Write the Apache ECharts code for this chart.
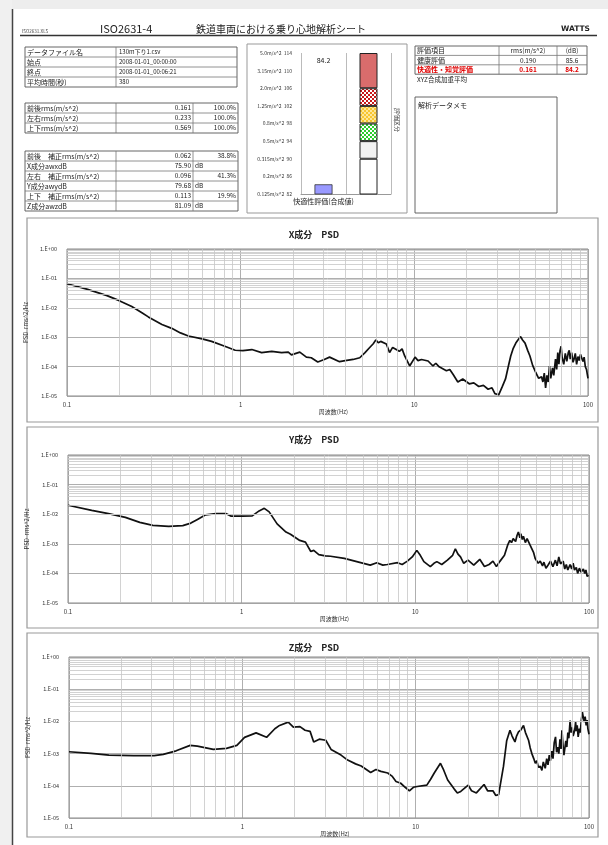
<!DOCTYPE html>
<html>
<head>
<meta charset="utf-8">
<script src="https://cdn.jsdelivr.net/npm/echarts@6/dist/echarts.min.js"></script>
<style>
html, body { margin: 0; padding: 0; background: #fff; }
#sheet { width: 608px; height: 845px; }
</style>
</head>
<body>
<div id="sheet"></div>
<script>
// ---- data ----
const fileInfo = [
  ['データファイル名', '130m下り1.csv'],
  ['始点', '2008-01-01_00:00:00'],
  ['終点', '2008-01-01_00:06:21'],
  ['平均時間(秒)', '380'],
]
const rmsRows = [
  ['前後rms(m/s^2)', '0.161', '100.0%'],
  ['左右rms(m/s^2)', '0.233', '100.0%'],
  ['上下rms(m/s^2)', '0.569', '100.0%'],
]
const weightedRows = [
  ['前後　補正rms(m/s^2)', '0.062', '38.8%'],
  ['X成分awxdB', '75.90', 'dB'],
  ['左右　補正rms(m/s^2)', '0.096', '41.3%'],
  ['Y成分awydB', '79.68', 'dB'],
  ['上下　補正rms(m/s^2)', '0.113', '19.9%'],
  ['Z成分awzdB', '81.09', 'dB'],
]
const evalRows = [
  ['評価項目', 'rms(m/s^2)', '(dB)'],
  ['健康評価', '0.190', '85.6'],
  ['快適性・知覚評価', '0.161', '84.2'],
]

const comfortCategories = ['快適性評価(合成値)', '']
const comfortValue = 84.2
const comfortDbTicks = [82, 86, 90, 94, 98, 102, 106, 110, 114]
const comfortRmsTicks = ['0.125m/s^2', '0.2m/s^2', '0.315m/s^2', '0.5m/s^2', '0.8m/s^2', '1.25m/s^2', '2.0m/s^2', '3.15m/s^2', '5.0m/s^2']
const bandSizes = [90, 4, 4, 4, 4, 8]   // stacked dB bands 82-90-94-98-102-106-114

// [frequency Hz, PSD]
const pointsX = [
  [0.1, 0.066], [0.13, 0.043], [0.17, 0.026], [0.2, 0.0175], [0.236, 0.011], [0.27, 0.0068], [0.294, 0.0049],
  [0.352, 0.0027], [0.401, 0.002], [0.45, 0.0014], [0.5, 0.0011], [0.6, 0.00088], [0.68, 0.00072], [0.81, 0.00049],
  [0.93, 0.00036], [1.03, 0.00035], [1.16, 0.00038], [1.32, 0.0003], [1.51, 0.00033], [1.72, 0.0003], [1.88, 0.00031],
  [1.96, 0.00025], [2.19, 0.00031], [2.39, 0.00021], [2.55, 0.0002], [2.78, 0.000144], [3.03, 0.000175], [3.25, 0.00021],
  [3.71, 0.000147], [4.0, 0.00016], [4.44, 0.000175], [4.85, 0.0002], [5.2, 0.0003], [5.5, 0.00043], [5.8, 0.0006],
  [6.0, 0.00081], [6.2, 0.00065], [6.4, 0.00072], [6.9, 0.00059], [7.2, 0.0003], [7.5, 0.00045], [7.7, 0.0004], [8.2, 0.00033],
  [8.5, 0.0004], [8.8, 0.00023], [9.4, 0.000105], [10.1, 0.00021], [10.5, 0.00016], [11, 0.000175], [12, 0.000155],
  [12.8, 0.000105], [13.3, 0.00013], [13.9, 0.000098], [15.3, 0.000072], [16, 0.00008], [16.7, 0.000055], [17.8, 0.00003],
  [19, 0.000038], [20.7, 0.000026], [22, 0.000028], [23.5, 0.000021], [25, 0.000023], [26.6, 0.000017], [28, 0.000019],
  [29.1, 0.000012], [30.6, 0.000011], [32, 0.00002], [33.5, 0.000038], [35, 0.00012], [35.9, 0.00023], [37, 0.0004],
  [38.4, 0.00063], [39.5, 0.0008], [40.9, 0.00105], [42, 0.0008], [43.4, 0.00063], [45, 0.00035], [46.3, 0.00023],
  [48, 0.00011], [50, 0.000063], [52, 0.00004], [54, 0.000045], [55, 0.00003], [56, 0.00006], [57, 0.000019],
  [58, 0.00005], [59, 0.00003], [60, 0.000105], [61, 0.00004], [62.5, 0.00009], [63.5, 0.00005], [65, 0.00018],
  [66, 0.00008], [67, 0.0003], [68, 0.00012], [69, 0.00035], [70, 0.00049], [71, 0.0002], [72.5, 0.00012],
  [74, 0.00028], [75.5, 0.00015], [77, 0.0003], [78, 0.00036], [79, 0.00018], [80.5, 0.0003], [82, 0.00014],
  [83, 0.000175], [84.5, 0.00028], [86, 0.00012], [87.5, 0.00022], [89, 0.00016], [90.5, 0.00026], [92, 0.0003],
  [93.5, 0.00015], [95, 0.00021], [96.5, 0.0001], [98, 0.00008], [100, 0.00004],
]
const pointsY = [
  [0.1, 0.02], [0.137, 0.0135], [0.171, 0.0105], [0.214, 0.0078], [0.259, 0.0053], [0.308, 0.0042], [0.38, 0.0039],
  [0.458, 0.0041], [0.51, 0.005], [0.56, 0.0068], [0.62, 0.0095], [0.71, 0.0105], [0.81, 0.0105], [0.87, 0.0086],
  [1.01, 0.0086], [1.15, 0.0088], [1.26, 0.0129], [1.35, 0.0158], [1.44, 0.012], [1.6, 0.0047], [1.8, 0.0025],
  [1.91, 0.0021], [2.16, 0.0013], [2.33, 0.00114], [2.5, 0.00055], [2.6, 0.0006], [2.78, 0.00043], [3.03, 0.00039],
  [3.25, 0.00038], [3.9, 0.00032], [4.6, 0.00025], [5.5, 0.00019], [6.0, 0.00023], [6.5, 0.00019], [6.9, 0.0002],
  [7.9, 0.00023], [8.4, 0.0002], [9.0, 0.00026], [9.6, 0.00036], [10.2, 0.0006], [10.7, 0.0004], [11.2, 0.00025],
  [12.2, 0.00017], [12.8, 0.00022], [13.3, 0.00025], [14.2, 0.0002], [15.3, 0.00028], [16.4, 0.00041], [17.0, 0.00068],
  [17.6, 0.00045], [18.2, 0.00036], [19, 0.00022], [20.1, 0.00028], [21.7, 0.00019], [23.5, 0.0003], [25, 0.00017],
  [26.6, 0.0002], [28, 0.00026], [29.3, 0.00017], [30.6, 0.00025], [32.6, 0.00041], [34, 0.0009], [35, 0.0013],
  [35.8, 0.0011], [36.6, 0.0015], [37.8, 0.0012], [38.5, 0.0019], [39.2, 0.0025], [40, 0.0016], [40.5, 0.0022],
  [41.3, 0.0014], [41.9, 0.0018], [43, 0.0011], [44, 0.0015], [44.8, 0.0013], [45.8, 0.0009], [46.8, 0.00088],
  [48, 0.0005], [49, 0.00032], [50, 0.00035], [51, 0.00022], [52.4, 0.00026], [54, 0.00018], [55, 0.00024],
  [56.5, 0.00015], [58.4, 0.0002], [60, 0.00026], [62, 0.00017], [64, 0.00028], [65.5, 0.00018], [67, 0.00036],
  [68.5, 0.00021], [69.8, 0.00019], [71, 0.00026], [72.5, 0.00014], [74, 0.0002], [75.5, 0.00013], [77.8, 0.0002],
  [79.5, 0.00014], [81, 0.00022], [82.5, 0.00013], [84.5, 0.00016], [86, 0.0001], [88, 0.00015], [90, 0.00011],
  [92.8, 0.00014], [94.5, 0.0001], [96, 0.00013], [97.5, 0.00008], [99.5, 0.000087],
]
const pointsZ = [
  [0.1, 0.00114], [0.134, 0.00102], [0.17, 0.0009], [0.236, 0.00086], [0.31, 0.00086], [0.35, 0.00095], [0.415, 0.00122],
  [0.5, 0.0018], [0.55, 0.0017], [0.68, 0.00135], [0.81, 0.00145], [0.93, 0.0018], [1.03, 0.0032], [1.2, 0.0044],
  [1.38, 0.0032], [1.54, 0.0059], [1.64, 0.0075], [1.84, 0.0095], [1.97, 0.0066], [2.15, 0.0069], [2.3, 0.0053],
  [2.46, 0.0049], [2.58, 0.0023], [2.78, 0.0028], [3.03, 0.0026], [3.25, 0.00135], [3.71, 0.0009], [4.05, 0.00063],
  [4.5, 0.00048], [4.85, 0.00041], [5.5, 0.00026], [5.9, 0.00032], [6.3, 0.00028], [6.9, 0.00025], [7.3, 0.0002],
  [7.7, 0.000136], [8.2, 0.00012], [8.7, 0.00009], [9.2, 0.00007], [9.7, 0.00009], [10.2, 0.000095], [11.6, 0.000105],
  [12.2, 0.00016], [12.8, 0.00025], [13.9, 0.0005], [14.5, 0.00031], [15.3, 0.000152], [16.7, 0.000079], [17.4, 0.00006],
  [18.2, 0.000067], [20.1, 0.000105], [21, 0.00007], [22.4, 0.00006], [24.8, 0.00011], [26, 0.00007], [27.9, 0.00007],
  [29, 0.00005], [30.1, 0.000053], [32.1, 0.0004], [33.5, 0.0025], [35, 0.0053], [36, 0.0035], [37.4, 0.0023],
  [38.2, 0.0035], [39.2, 0.0047], [40.5, 0.0055], [41.9, 0.0075], [43, 0.0045], [44.8, 0.0026], [45.8, 0.0015],
  [46.8, 0.001], [48, 0.0007], [49, 0.0005], [50, 0.0006], [51, 0.00038], [52.4, 0.0004], [53.5, 0.0003],
  [54.5, 0.00055], [55.9, 0.00035], [57, 0.0007], [58, 0.00045], [59, 0.0009], [59.9, 0.0006], [61, 0.0012],
  [62, 0.0007], [63, 0.0022], [64.1, 0.0033], [65, 0.0011], [66, 0.0016], [67, 0.001], [68, 0.0028], [69, 0.0014],
  [69.8, 0.0053], [70.8, 0.0018], [71.7, 0.0009], [72.5, 0.00079], [73.5, 0.0025], [74.5, 0.0016], [75.5, 0.0045],
  [76.5, 0.003], [77.8, 0.0107], [78.8, 0.0045], [80, 0.0065], [81, 0.0035], [82.7, 0.0053], [83.7, 0.0095],
  [84.5, 0.005], [85.5, 0.0075], [86.6, 0.0033], [88, 0.006], [89, 0.0045], [90.5, 0.012], [91.6, 0.0195],
  [93, 0.012], [94, 0.0095], [95, 0.014], [96.3, 0.0075], [97.5, 0.011], [98.5, 0.006], [100, 0.004],
]

const psdTitles = ['X成分　PSD', 'Y成分　PSD', 'Z成分　PSD']
const decadeSteps = [2, 3, 4, 5, 6, 7, 8, 9]

// ---- layout ----
const FONT = '"Noto Sans CJK JP", "Noto Sans", sans-serif'
const psdGrids = [
  { left: 67, top: 249, width: 521, height: 147, box: [27, 218, 571, 204], titleY: 235 },
  { left: 68, top: 455, width: 521, height: 148, box: [27, 427, 571, 201], titleY: 440 },
  { left: 69, top: 657, width: 520, height: 161, box: [27, 633, 571, 204], titleY: 648 },
]

const g = []
function txt(x, y, s, size, o) {
  g.push({ type: 'text', x, y, silent: true,
    style: Object.assign({ text: s, fontSize: size, fill: '#222', fontFamily: FONT, verticalAlign: 'middle', align: 'left' }, o || {}) })
}
function box(x, y, w, h, stroke, lw) {
  g.push({ type: 'rect', silent: true, shape: { x, y, width: w, height: h },
    style: { fill: 'none', stroke: stroke || '#555', lineWidth: lw || 1 } })
}
function hline(x1, x2, y, stroke, lw) {
  g.push({ type: 'line', silent: true, shape: { x1, y1: y, x2, y2: y }, style: { stroke: stroke || '#777', lineWidth: lw || 0.8 } })
}
function vline(x, y1, y2, stroke, lw) {
  g.push({ type: 'line', silent: true, shape: { x1: x, y1, x2: x, y2 }, style: { stroke: stroke || '#777', lineWidth: lw || 0.8 } })
}

// page frame
g.push({ type: 'rect', silent: true, shape: { x: 0, y: 0, width: 608, height: 9 }, style: { fill: '#ededed' } })
g.push({ type: 'rect', silent: true, shape: { x: 0, y: 0, width: 12, height: 845 }, style: { fill: '#f0f0f0' } })
vline(12.5, 9, 845, '#444', 1.5)

// header
txt(22, 31, 'ISO2631.XLS', 4.5, { fill: '#444' })
txt(100, 29, 'ISO2631-4', 11)
txt(196, 29, '鉄道車両における乗り心地解析シート', 10)
txt(590, 29, 'WATTS', 7.5, { align: 'right', fontWeight: 'bold', fontFamily: 'DejaVu Sans' })
hline(20, 597, 35.5, '#333', 1.3)

// table 1: file info
const rh = 10
box(25, 47, 212, rh * fileInfo.length, '#555', 0.9)
vline(116, 47, 47 + rh * fileInfo.length)
fileInfo.forEach((r, i) => {
  const y = 47 + rh * i
  if (i) hline(25, 237, y)
  txt(27, y + rh / 2, r[0], 7)
  txt(119, y + rh / 2, r[1], 6)
})

// table 2 + 3: rms values
function valueTable(top, rows) {
  box(25, top, 213, rh * rows.length, '#555', 0.9)
  vline(116, top, top + rh * rows.length)
  vline(193, top, top + rh * rows.length)
  rows.forEach((r, i) => {
    const y = top + rh * i
    if (i) hline(25, 238, y)
    txt(27, y + rh / 2, r[0], 7)
    txt(191, y + rh / 2, r[1], 6.5, { align: 'right' })
    if (r[2] === 'dB') txt(195, y + rh / 2, r[2], 6.5)
    else txt(236, y + rh / 2, r[2], 6.5, { align: 'right' })
  })
}
valueTable(103, rmsRows)
valueTable(151, weightedRows)

// evaluation table (right)
const eh = 9.4
box(415, 46, 172, eh * evalRows.length, '#555', 0.9)
vline(499, 46, 46 + eh * evalRows.length)
vline(557, 46, 46 + eh * evalRows.length)
evalRows.forEach((r, i) => {
  const y = 46 + eh * i
  if (i) hline(415, 587, y)
  const red = i === 2 ? { fill: '#e00000', fontWeight: 'bold' } : {}
  txt(417, y + eh / 2, r[0], 7, red)
  txt(528, y + eh / 2, r[1], 6.5, Object.assign({ align: 'center' }, red))
  txt(572, y + eh / 2, r[2], 6.5, Object.assign({ align: 'center' }, red))
})
txt(417, 80, 'XYZ合成加重平均', 6.5)
box(415, 97, 142, 116, '#555', 0.9)
txt(418, 105, '解析データメモ', 7)

// comfort chart frame and labels
box(247, 44, 160, 169, '#999', 1)
txt(323.5, 60, String(comfortValue), 7, { align: 'center' })
g.push({ type: 'text', x: 397, y: 120, rotation: -Math.PI / 2, silent: true,
  style: { text: '評価区分', fontSize: 6, fill: '#333', fontFamily: FONT, align: 'center', verticalAlign: 'middle' } })

// PSD panels
psdGrids.forEach((p, i) => {
  box(p.box[0], p.box[1], p.box[2], p.box[3], '#999', 1.2)
  txt(314, p.titleY, psdTitles[i], 9, { align: 'center', fontWeight: 'bold' })
})

// patterns for the comfort bands
function pattern(base, dot) {
  const c = document.createElement('canvas')
  c.width = 4; c.height = 4
  const ctx = c.getContext('2d')
  ctx.fillStyle = base; ctx.fillRect(0, 0, 4, 4)
  ctx.fillStyle = dot; ctx.fillRect(0, 0, 2, 2); ctx.fillRect(2, 2, 2, 2)
  return { image: c, repeat: 'repeat' }
}
const bandColors = ['#ffffff', '#f2f2f2', pattern('#2ecc2e', '#ffffff'), pattern('#f7c530', '#fde79a'), pattern('#c81818', '#ffffff'), '#d96c6c']

// ---- option ----
const minorX = [0.1, 1, 10].flatMap((d) => decadeSteps.map((k) => +(d * k).toPrecision(2)))
const minorY = [1e-5, 1e-4, 1e-3, 1e-2, 1e-1].flatMap((d) => decadeSteps.map((k) => +(d * k).toPrecision(2)))

function expLabel(v) {
  const e = Math.round(Math.log10(v))
  return '1.E' + (e < 0 ? '-' : '+') + String(Math.abs(e)).padStart(2, '0')
}

const grids = [{ left: 301, top: 53, width: 90, height: 141 }]
const xAxes = [{
  type: 'category', gridIndex: 0, data: comfortCategories,
  axisTick: { show: false }, axisLine: { lineStyle: { color: '#999' } },
  axisLabel: { interval: 0, fontSize: 7, color: '#222', margin: 4, fontFamily: FONT },
  splitLine: { show: true, lineStyle: { color: '#bbb' } },
}]
const yAxes = [{
  type: 'value', gridIndex: 0, min: 82, max: 114, interval: 4,
  axisLine: { show: false }, axisTick: { show: false }, splitLine: { show: false },
  axisLabel: { fontSize: 5, color: '#333', margin: 9, fontFamily: FONT,
    formatter: (v) => comfortRmsTicks[comfortDbTicks.indexOf(v)] + '  ' + v },
}]
const series = [{
  type: 'bar', xAxisIndex: 0, yAxisIndex: 0, data: [comfortValue, '-'], barWidth: 18, barGap: '-100%',
  itemStyle: { color: '#9999ff', borderColor: '#333', borderWidth: 0.8 },
}]
bandSizes.forEach((v, i) => {
  series.push({
    type: 'bar', xAxisIndex: 0, yAxisIndex: 0, stack: 'bands', data: ['-', v], barWidth: 18, barGap: '-100%',
    itemStyle: { color: bandColors[i], borderColor: '#222', borderWidth: 1 },
  })
})

const psdPoints = [pointsX, pointsY, pointsZ]
psdGrids.forEach((p, i) => {
  const k = i + 1
  grids.push({ left: p.left, top: p.top, width: p.width, height: p.height, show: true, borderColor: '#888', borderWidth: 1 })
  xAxes.push({
    type: 'log', logBase: 10, gridIndex: k, min: 0.1, max: 100,
    axisLine: { show: false }, axisTick: { show: false },
    axisLabel: { fontSize: 6, color: '#333', margin: 6, fontFamily: FONT },
    splitLine: { show: true, lineStyle: { color: '#9a9a9a', width: 0.8 } },
    name: '周波数(Hz)', nameLocation: 'middle', nameGap: 11,
    nameTextStyle: { fontSize: 6, color: '#333', fontFamily: FONT, padding: [0, 0, 0, 12] },
  })
  yAxes.push({
    type: 'log', logBase: 10, gridIndex: k, min: 1e-5, max: 1,
    axisLine: { show: false }, axisTick: { show: false },
    axisLabel: { fontSize: 5.5, color: '#333', margin: 10, formatter: expLabel, fontFamily: FONT },
    splitLine: { show: true, lineStyle: { color: '#9a9a9a', width: 0.8 } },
    name: 'PSD  rms^2/Hz', nameLocation: 'middle', nameGap: 35, nameRotate: 90,
    nameTextStyle: { fontSize: 6, color: '#333', fontFamily: FONT },
  })
  series.push({
    type: 'line', xAxisIndex: k, yAxisIndex: k, data: [], silent: true, z: 1,
    markLine: {
      silent: true, symbol: 'none', animation: false, label: { show: false },
      lineStyle: { color: '#c6c6c6', width: 0.8, type: 'solid' },
      data: minorY.map((v) => ({ yAxis: v })).concat(minorX.map((v) => ({ xAxis: v }))),
    },
  })
  series.push({
    type: 'line', xAxisIndex: k, yAxisIndex: k, z: 3, showSymbol: false,
    data: psdPoints[i],
    lineStyle: { color: '#111', width: 1.7 },
  })
})

const chart = echarts.init(document.getElementById('sheet'))
chart.setOption({
  animation: false,
  backgroundColor: '#fff',
  textStyle: { fontFamily: FONT },
  grid: grids,
  xAxis: xAxes,
  yAxis: yAxes,
  series,
  graphic: { elements: g },
})
</script>
</body>
</html>
